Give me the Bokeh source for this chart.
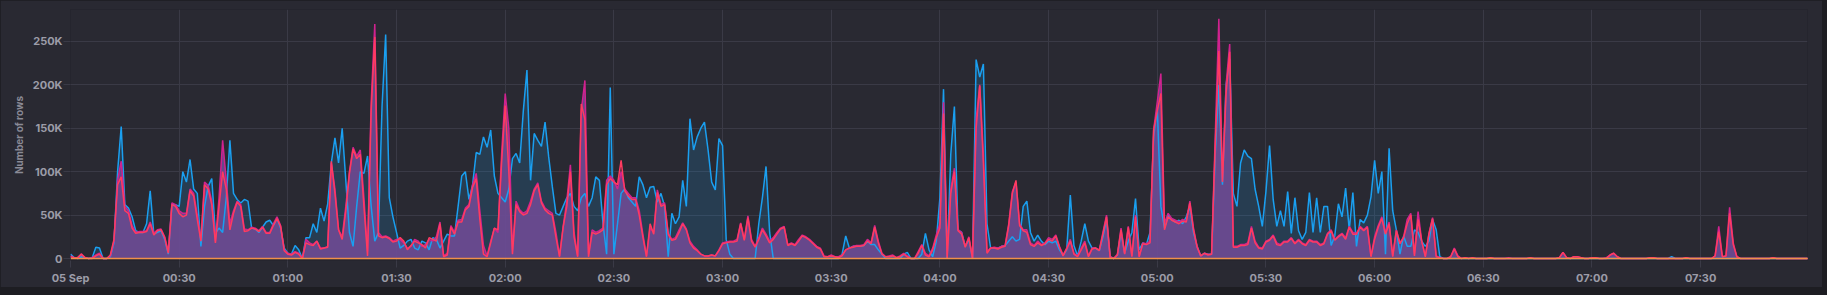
from bokeh.plotting import figure
from bokeh.models import Range1d, FixedTicker, ColumnDataSource, Title
from bokeh.layouts import column
from bokeh.embed import file_html
from bokeh.resources import INLINE

# time grid: minutes after 05 Sep 00:00 (1-minute samples)
minutes = list(range(0, 481))

# values in thousands of rows (10 per line)
blue_k = [
    5, 1, 0, 2, 1, 0, 1, 13, 12, 0,
    0, 2, 18, 100, 152, 62, 58, 48, 32, 30,
    30, 40, 78, 28, 30, 32, 22, 5, 62, 62,
    60, 100, 88, 114, 80, 75, 14, 60, 83, 92,
    29, 35, 30, 70, 136, 75, 68, 64, 68, 66,
    35, 34, 30, 36, 42, 44, 38, 46, 35, 12,
    6, 5, 15, 10, 0, 24, 24, 40, 30, 58,
    43, 63, 110, 139, 110, 150, 90, 30, 14, 60,
    100, 98, 118, 60, 20, 30, 175, 258, 70, 48,
    30, 12, 15, 20, 22, 12, 10, 20, 18, 10,
    24, 22, 12, 20, 28, 26, 26, 60, 95, 100,
    68, 85, 122, 120, 140, 128, 148, 95, 75, 70,
    65, 80, 115, 121, 110, 170, 217, 90, 144, 136,
    129, 157, 117, 83, 52, 50, 60, 70, 75, 60,
    55, 70, 75, 60, 70, 94, 90, 40, 5, 197,
    5, 40, 75, 80, 70, 65, 60, 94, 85, 70,
    82, 83, 65, 75, 60, 2, 52, 40, 48, 90,
    60, 161, 125, 140, 150, 157, 125, 88, 79, 138,
    130, 22, 5, 0, 0, 0, 0, 0, 0, 0,
    40, 70, 106, 30, 0, 0, 0, 0, 0, 0,
    0, 0, 0, 0, 0, 0, 0, 0, 0, 0,
    0, 0, 0, 5, 26, 12, 14, 14, 14, 15,
    20, 16, 16, 10, 5, 0, 0, 0, 0, 0,
    5, 7, 0, 0, 0, 5, 29, 10, 2, 20,
    70, 195, 0, 120, 175, 33, 30, 14, 22, 0,
    229, 209, 224, 40, 12, 12, 12, 14, 15, 20,
    25, 20, 22, 60, 66, 30, 20, 27, 20, 16,
    20, 18, 20, 10, 4, 10, 73, 15, 3, 20,
    40, 20, 12, 12, 9, 25, 45, 2, 0, 4,
    30, 6, 20, 30, 69, 10, 18, 16, 30, 140,
    174, 60, 35, 50, 45, 42, 44, 40, 48, 60,
    30, 14, 3, 6, 5, 5, 120, 200, 85, 200,
    230, 75, 60, 110, 125, 118, 115, 80, 60, 37,
    77, 130, 68, 37, 55, 37, 77, 29, 70, 32,
    22, 30, 76, 30, 70, 30, 60, 60, 15, 26,
    63, 48, 81, 33, 76, 14, 45, 41, 50, 71,
    113, 75, 100, 5, 127, 55, 33, 5, 26, 14,
    14, 33, 30, 20, 14, 20, 45, 33, 2, 0,
    0, 0, 0, 0, 0, 0, 0, 0, 0, 0,
    0, 0, 0, 0, 0, 0, 0, 0, 0, 0,
    0, 0, 0, 0, 0, 0, 0, 0, 0, 0,
    0, 0, 0, 0, 0, 0, 0, 0, 0, 0,
    0, 0, 0, 0, 0, 0, 0, 0, 0, 0,
    0, 0, 0, 0, 0, 0, 0, 0, 0, 0,
    0, 0, 2, 0, 0, 0, 0, 0, 0, 0,
    0, 0, 0, 0, 0, 0, 0, 0, 0, 0,
    0, 0, 0, 0, 0, 0, 0, 0, 0, 0,
    0, 0, 0, 0, 0, 0, 0, 0, 0, 0,
    0,
]
purple_k = [
    3, 1, 1, 5, 1, 0, 1, 4, 6, 0,
    0, 3, 20, 90, 112, 60, 55, 38, 30, 31,
    31, 32, 42, 29, 33, 34, 25, 8, 64, 62,
    55, 52, 52, 80, 75, 50, 22, 88, 84, 66,
    20, 70, 136, 90, 40, 55, 66, 62, 34, 33,
    36, 35, 32, 37, 30, 30, 40, 48, 38, 10,
    6, 5, 8, 6, 0, 22, 18, 16, 20, 12,
    12, 14, 110, 80, 33, 25, 60, 100, 128, 118,
    125, 70, 8, 180, 270, 30, 25, 26, 24, 20,
    22, 22, 18, 12, 14, 22, 20, 14, 16, 22,
    20, 25, 42, 3, 6, 38, 30, 44, 45, 58,
    62, 85, 98, 55, 15, 3, 20, 35, 30, 120,
    190, 150, 10, 66, 56, 52, 55, 66, 80, 87,
    66, 58, 55, 52, 30, 3, 37, 66, 108, 30,
    3, 170, 205, 5, 33, 30, 32, 35, 90, 95,
    90, 80, 100, 80, 75, 70, 70, 55, 28, 3,
    35, 30, 79, 62, 64, 29, 22, 24, 33, 41,
    34, 20, 14, 10, 5, 3, 3, 4, 3, 10,
    18, 19, 20, 20, 22, 41, 22, 49, 22, 14,
    24, 35, 28, 20, 24, 30, 35, 37, 16, 18,
    16, 22, 27, 25, 22, 18, 14, 12, 3, 2,
    4, 2, 2, 4, 10, 12, 14, 15, 15, 16,
    22, 18, 38, 20, 6, 2, 3, 4, 1, 3,
    6, 3, 0, 0, 8, 16, 6, 3, 12, 27,
    40, 180, 3, 80, 104, 33, 30, 14, 25, 1,
    160, 200, 120, 8, 12, 13, 12, 14, 15, 40,
    77, 88, 40, 33, 33, 18, 15, 20, 16, 18,
    24, 22, 27, 14, 4, 12, 22, 6, 3, 12,
    20, 3, 12, 12, 10, 30, 50, 2, 0, 5,
    35, 6, 37, 3, 50, 2, 18, 17, 20, 148,
    180, 213, 40, 52, 46, 44, 42, 45, 43, 66,
    35, 14, 3, 6, 5, 5, 140, 276, 90, 200,
    247, 14, 14, 16, 16, 18, 37, 20, 13, 12,
    20, 22, 27, 18, 16, 20, 20, 24, 18, 22,
    18, 16, 22, 20, 20, 16, 18, 29, 33, 22,
    26, 29, 24, 37, 30, 29, 37, 33, 37, 3,
    25, 38, 48, 30, 42, 3, 33, 18, 25, 45,
    52, 5, 54, 20, 3, 29, 47, 3, 1, 0,
    0, 2, 12, 3, 0, 1, 0, 1, 0, 0,
    0, 0, 1, 0, 0, 0, 0, 1, 0, 0,
    0, 0, 0, 1, 0, 0, 0, 0, 0, 0,
    0, 1, 7, 1, 0, 2, 2, 1, 0, 0,
    1, 1, 0, 0, 1, 4, 6, 2, 0, 0,
    0, 0, 0, 0, 0, 0, 1, 1, 0, 0,
    0, 0, 0, 0, 0, 0, 1, 0, 0, 0,
    0, 0, 0, 0, 3, 37, 2, 3, 59, 18,
    2, 0, 0, 0, 0, 0, 0, 0, 0, 0,
    1, 0, 0, 0, 0, 0, 0, 0, 0, 0,
    0,
]
red_k = [
    2, 1, 1, 5, 1, 0, 0, 3, 5, 0,
    0, 4, 22, 85, 94, 55, 52, 35, 29, 30,
    30, 31, 40, 27, 32, 33, 24, 6, 62, 60,
    52, 48, 50, 78, 72, 45, 20, 85, 80, 62,
    18, 60, 100, 80, 33, 52, 65, 60, 31, 32,
    35, 34, 31, 36, 29, 29, 38, 46, 37, 9,
    5, 4, 7, 5, 0, 18, 16, 15, 20, 11,
    12, 13, 112, 75, 33, 22, 55, 98, 126, 115,
    120, 60, 3, 170, 255, 26, 24, 25, 23, 19,
    20, 24, 20, 10, 15, 20, 18, 16, 12, 24,
    22, 20, 40, 2, 4, 36, 28, 42, 42, 56,
    60, 82, 92, 45, 5, 2, 18, 35, 33, 110,
    176, 100, 5, 62, 54, 50, 52, 62, 78, 85,
    64, 56, 52, 50, 25, 2, 36, 60, 100, 25,
    2, 178, 160, 2, 30, 28, 30, 33, 85, 92,
    88, 85, 113, 78, 72, 68, 68, 50, 25, 2,
    40, 28, 76, 60, 62, 28, 21, 22, 30, 40,
    33, 18, 12, 9, 5, 3, 3, 4, 3, 9,
    17, 18, 19, 19, 20, 40, 21, 47, 20, 13,
    22, 33, 26, 18, 22, 28, 34, 36, 15, 17,
    15, 20, 26, 24, 21, 17, 13, 11, 2, 2,
    3, 2, 1, 3, 10, 12, 13, 14, 14, 15,
    20, 17, 36, 18, 5, 2, 2, 3, 1, 2,
    5, 2, 0, 0, 6, 15, 4, 2, 10, 24,
    35, 167, 0, 75, 100, 32, 28, 13, 24, 0,
    150, 199, 110, 6, 12, 12, 11, 13, 14, 38,
    75, 90, 38, 32, 30, 16, 14, 18, 15, 17,
    22, 20, 26, 13, 3, 11, 20, 5, 2, 10,
    18, 2, 11, 12, 9, 28, 48, 1, 0, 4,
    33, 5, 36, 2, 48, 2, 17, 16, 18, 148,
    170, 190, 33, 48, 44, 42, 40, 43, 42, 64,
    33, 13, 3, 6, 4, 5, 130, 239, 88, 190,
    238, 13, 13, 15, 15, 16, 35, 18, 12, 11,
    19, 21, 26, 16, 15, 19, 19, 23, 17, 21,
    17, 15, 21, 19, 19, 15, 17, 28, 32, 21,
    25, 28, 22, 36, 28, 28, 36, 32, 36, 2,
    22, 36, 46, 28, 40, 2, 32, 17, 24, 40,
    50, 3, 45, 20, 2, 28, 46, 2, 1, 0,
    0, 2, 11, 2, 0, 1, 0, 1, 0, 0,
    0, 0, 1, 0, 0, 0, 0, 0, 0, 0,
    0, 0, 0, 1, 0, 0, 0, 0, 0, 0,
    0, 1, 7, 1, 0, 2, 2, 1, 0, 0,
    1, 1, 0, 0, 0, 4, 6, 2, 0, 0,
    0, 0, 0, 0, 0, 0, 1, 1, 0, 0,
    0, 0, 0, 0, 0, 0, 1, 0, 0, 0,
    0, 0, 0, 0, 3, 31, 2, 3, 52, 16,
    2, 0, 0, 0, 0, 0, 0, 0, 0, 0,
    1, 0, 0, 0, 0, 0, 0, 0, 0, 0,
    0,
]
orange_k = [0] * len(minutes)

x_ticks = [0, 30, 60, 90, 120, 150, 180, 210, 240, 270, 300, 330, 360, 390, 420, 450]
x_tick_labels = ["05 Sep", "00:30", "01:00", "01:30", "02:00", "02:30", "03:00", "03:30",
                 "04:00", "04:30", "05:00", "05:30", "06:00", "06:30", "07:00", "07:30"]
y_ticks = [0, 50000, 100000, 150000, 200000, 250000]
y_tick_labels = ["0", "50K", "100K", "150K", "200K", "250K"]
y_title = "Number of rows"

BG = "#292932"
OUTER = "#1d1d22"
GRID = "#3a3a46"
TEXT = "#9c9ca8"

src = ColumnDataSource(dict(
    t=minutes,
    blue=[v * 1000 for v in blue_k],
    purple=[v * 1000 for v in purple_k],
    red=[v * 1000 for v in red_k],
    orange=[v * 1000 for v in orange_k],
))

p = figure(width=1822, height=287, output_backend="svg", toolbar_location=None,
           x_range=Range1d(0, 479.5), y_range=Range1d(-2300, 286700),
           min_border_left=70, min_border_right=15, min_border_top=9, min_border_bottom=26)
p.background_fill_color = BG
p.border_fill_color = BG
p.outline_line_color = None

p.varea(x="t", y1=0, y2="blue", source=src, fill_color="#1f9ff0", fill_alpha=0.17)
p.varea(x="t", y1=0, y2="purple", source=src, fill_color="#6c4a93", fill_alpha=0.92)
p.line(x="t", y="blue", source=src, line_color="#1a9ff0", line_width=1.5)
p.line(x="t", y="purple", source=src, line_color="#d0228f", line_width=1.5)
p.line(x="t", y="red", source=src, line_color="#ff3b60", line_width=1.5)
p.line(x="t", y="orange", source=src, line_color="#f0904a", line_width=1.5)

p.xaxis.ticker = FixedTicker(ticks=x_ticks)
p.xaxis.major_label_overrides = {t: s for t, s in zip(x_ticks, x_tick_labels)}
p.yaxis.ticker = FixedTicker(ticks=y_ticks)
p.yaxis.major_label_overrides = {t: s for t, s in zip(y_ticks, y_tick_labels)}

for ax in (p.xaxis[0], p.yaxis[0]):
    ax.axis_line_color = None
    ax.major_tick_line_color = GRID
    ax.major_tick_in = 0
    ax.major_tick_out = 7
    ax.minor_tick_line_color = None
    ax.major_label_text_color = TEXT
    ax.major_label_text_font = "Inter"
    ax.major_label_text_font_size = "11px"
    ax.major_label_text_font_style = "bold"
p.xaxis.major_label_standoff = 3
p.yaxis.major_label_standoff = 1

# y-axis title as a side title left of the axis, shifted down a little
ytitle = Title(text=y_title, align="center", offset=-11, standoff=10,
               text_font="Inter", text_font_size="10px", text_font_style="bold",
               text_color="#8a8a96")
p.add_layout(ytitle, "left")

p.xgrid.ticker = FixedTicker(ticks=x_ticks)
p.ygrid.ticker = FixedTicker(ticks=y_ticks)
p.xgrid.grid_line_color = GRID
p.ygrid.grid_line_color = GRID

layout = column(p, width=1827, height=295, styles={"background-color": OUTER})

open("out.html", "w").write(file_html(layout, INLINE))
